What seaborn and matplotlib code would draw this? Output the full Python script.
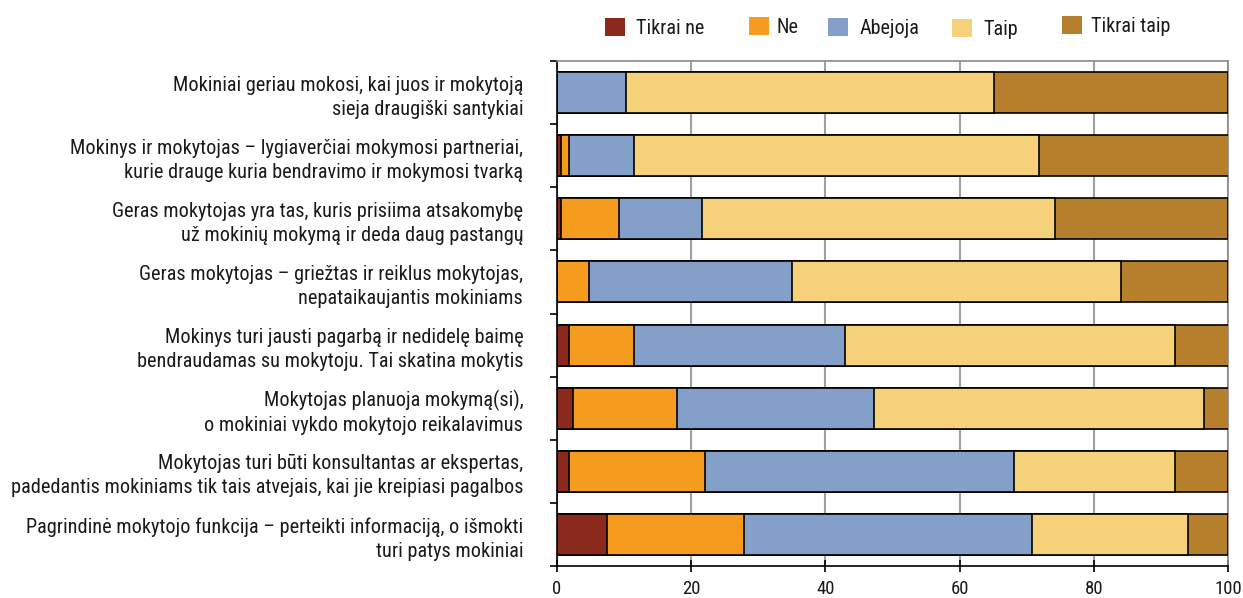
import matplotlib
matplotlib.use("Agg")
import matplotlib.pyplot as plt
from matplotlib.patches import Patch
import seaborn as sns
import pandas as pd
import numpy as np

categories = [
    "Mokiniai geriau mokosi, kai juos ir mokytoją\nsieja draugiški santykiai",
    "Mokinys ir mokytojas – lygiaverčiai mokymosi partneriai,\nkurie drauge kuria bendravimo ir mokymosi tvarką",
    "Geras mokytojas yra tas, kuris prisiima atsakomybę\nuž mokinių mokymą ir deda daug pastangų",
    "Geras mokytojas – griežtas ir reiklus mokytojas,\nnepataikaujantis mokiniams",
    "Mokinys turi jausti pagarbą ir nedidelę baimę\nbendraudamas su mokytoju. Tai skatina mokytis",
    "Mokytojas planuoja mokymą(si),\no mokiniai vykdo mokytojo reikalavimus",
    "Mokytojas turi būti konsultantas ar ekspertas,\npadedantis mokiniams tik tais atvejais, kai jie kreipiasi pagalbos",
    "Pagrindinė mokytojo funkcija – perteikti informaciją, o išmokti\nturi patys mokiniai",
]
series_names = ["Tikrai ne", "Ne", "Abejoja", "Taip", "Tikrai taip"]
tikrai_ne = [0.0, 0.7, 0.6, 0.0, 1.8, 2.5, 1.9, 7.5]
ne = [0.0, 1.1, 8.7, 4.9, 9.8, 15.5, 20.2, 20.4]
abejoja = [10.4, 9.8, 12.4, 30.2, 31.3, 29.2, 46.0, 42.9]
taip = [54.7, 60.2, 52.5, 48.9, 49.2, 49.1, 24.0, 23.1]
tikrai_taip = [34.9, 28.2, 25.8, 16.0, 7.9, 3.7, 7.9, 6.1]
colors = ["#8B2A1C", "#F59B1E", "#85A0C8", "#F5D27A", "#B57F2B"]
xticks = [0, 20, 40, 60, 80, 100]

sns.set_theme(style="white")
plt.rcParams["font.family"] = ["Roboto Condensed", "Liberation Sans Narrow", "Liberation Sans", "DejaVu Sans"]

values = np.array([tikrai_ne, ne, abejoja, taip, tikrai_taip])
cum = np.cumsum(values, axis=0)

W, H = 1243, 598
fig = plt.figure(figsize=(W / 100, H / 100), dpi=100)
ax = fig.add_axes([556.5 / W, 1 - 566 / H, (1228.5 - 556.5) / W, (566 - 61) / H])

for i in range(len(series_names) - 1, -1, -1):
    df = pd.DataFrame({"cat": categories, "val": cum[i]})
    sns.barplot(data=df, x="val", y="cat", orient="h", color=colors[i],
                saturation=1, width=0.65, edgecolor="black", linewidth=1.2,
                ax=ax, zorder=3)

ax.set_xlim(0, 100)
ax.set_ylim(len(categories) - 0.5, -0.5)
ax.set_xticks(xticks)
ax.set_xticklabels([str(t) for t in xticks], fontsize=13.5, color="#1a1a1a")
ax.set_xlabel("")
ax.set_ylabel("")
ax.set_yticks(np.arange(len(categories)))
ax.set_yticklabels(categories, fontsize=14.6, multialignment="right", color="#1a1a1a")
for t in ax.get_yticklabels():
    t.set_linespacing(1.33)
ax.tick_params(axis="y", length=0, pad=24)
ax.set_yticks(np.arange(len(categories) + 1) - 0.5, minor=True)
ax.tick_params(axis="y", which="minor", length=5, width=1.2, color="black", direction="out", left=True)
ax.tick_params(axis="x", length=8, width=1.2, direction="inout", color="black", pad=6, bottom=True)
ax.xaxis.grid(True, color="#a0a0a0", linewidth=1.5, zorder=0)
ax.set_axisbelow(True)
for s in ["left", "bottom"]:
    ax.spines[s].set_color("black")
    ax.spines[s].set_linewidth(1.2)
for s in ["top", "right"]:
    ax.spines[s].set_color("#8a8a8a")
    ax.spines[s].set_linewidth(1.2)

# legend entries placed like the reference (left edge of square, vertical centre in px)
leg_x = [605, 749, 828, 952, 1062]
leg_y = [28, 27, 28, 29, 26]
leg_pad = [0.55, 0.35, 0.55, 0.55, 0.45]
fs = 14.5
for name, c, lx, ly, lp in zip(series_names, colors, leg_x, leg_y, leg_pad):
    fig.legend([Patch(facecolor=c, edgecolor="none")], [name], loc="center left",
               bbox_to_anchor=(lx / W, 1 - ly / H), frameon=False, fontsize=fs,
               handlelength=20 / (fs * 100 / 72), handleheight=20 / (fs * 100 / 72),
               handletextpad=lp, borderpad=0, borderaxespad=0, labelcolor="#1a1a1a")

fig.savefig("out.png", dpi=100)
